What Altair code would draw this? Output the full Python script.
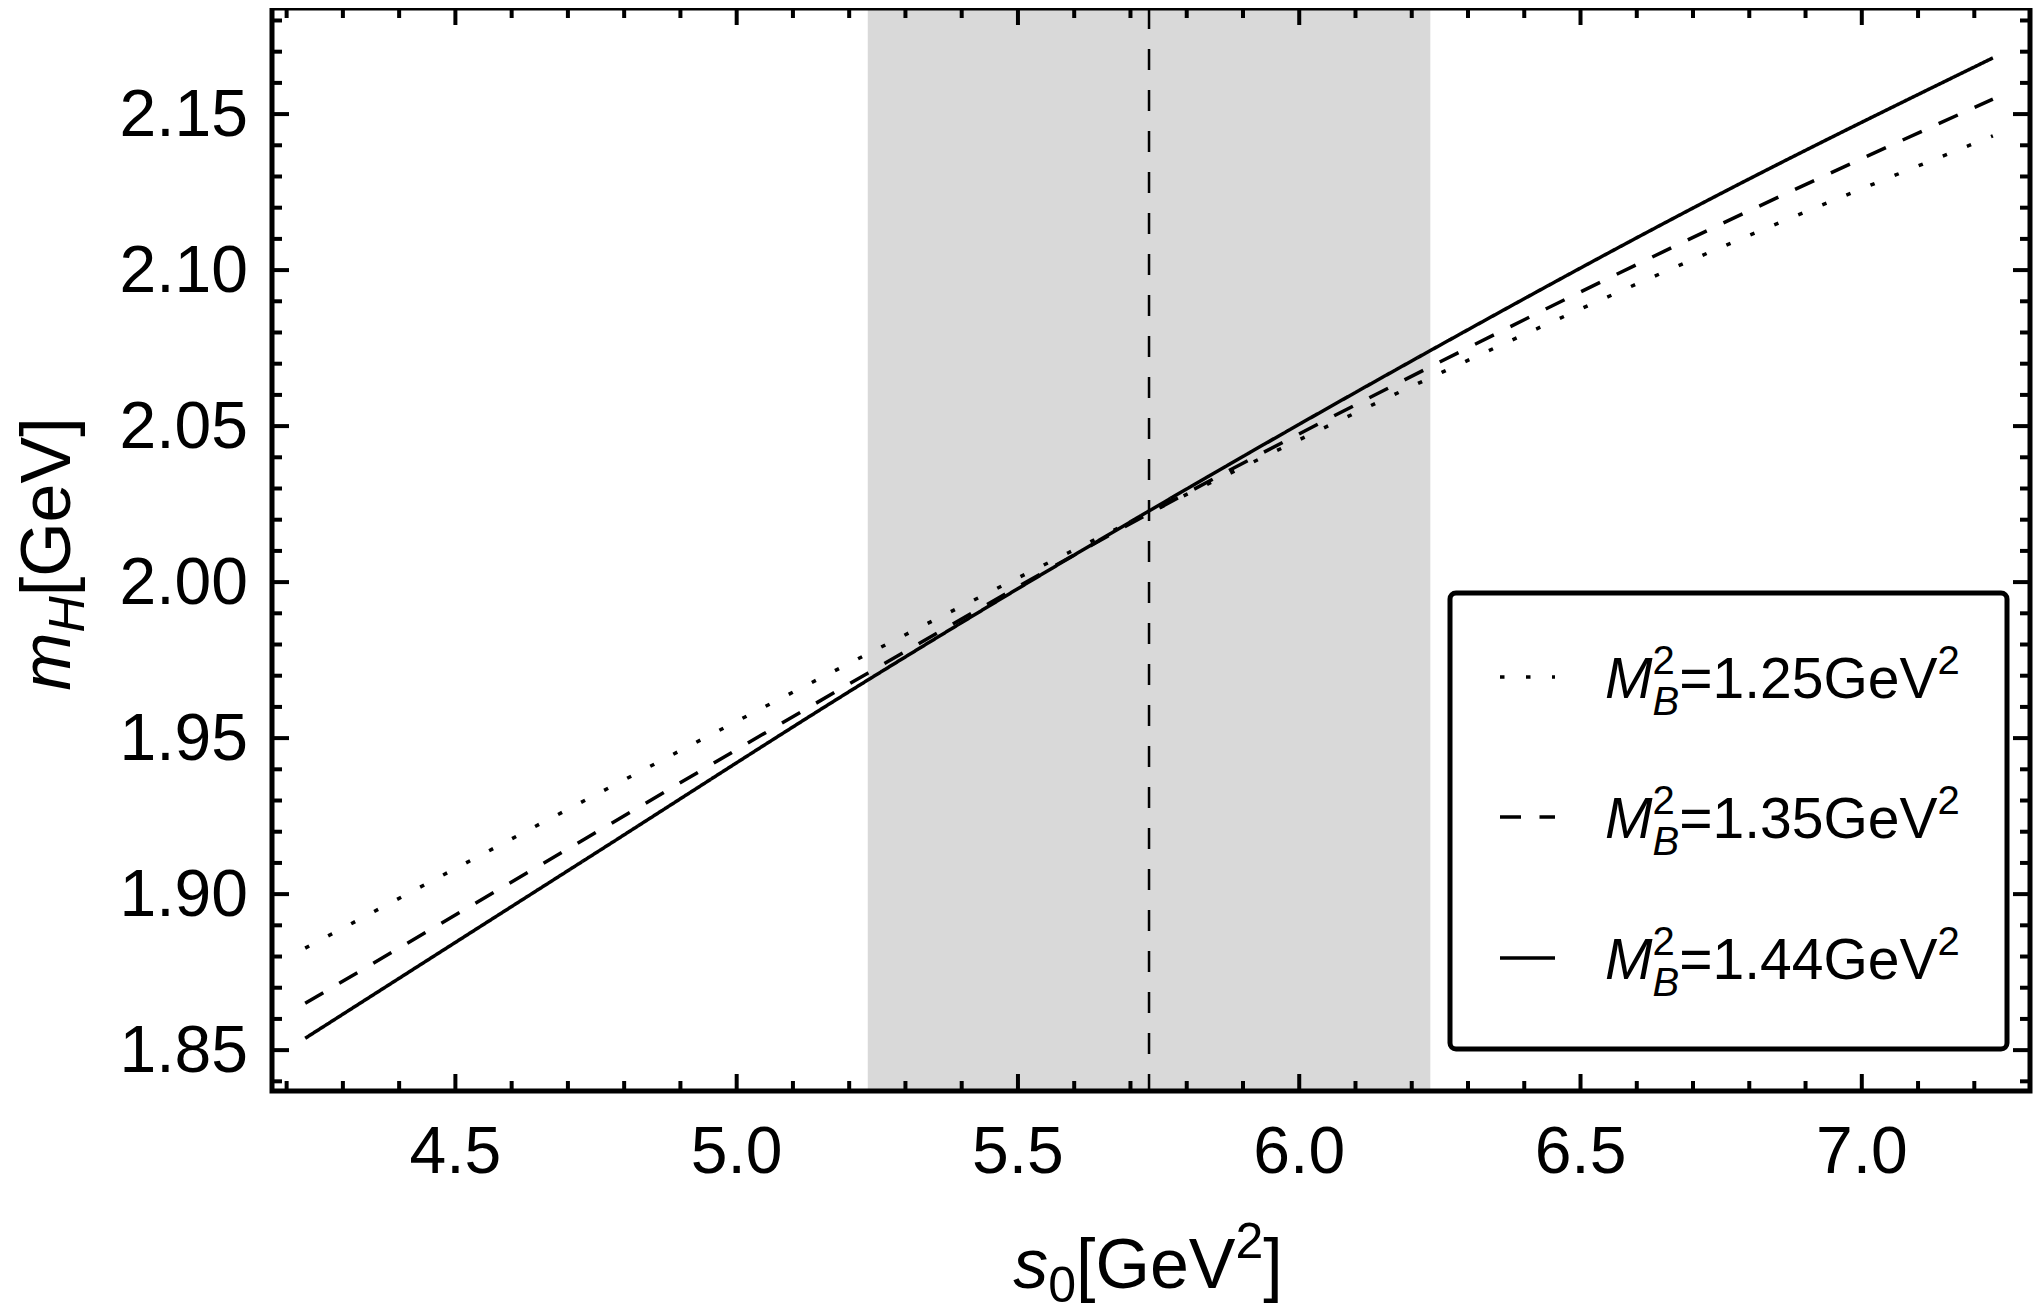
import altair as alt
import pandas as pd

# m_H as a function of the threshold s0, for three Borel masses M_B^2
s0 = [4.233, 4.733, 5.233, 5.733, 6.233, 6.733, 7.233]
mh_125 = [1.8827, 1.9303, 1.9770, 2.0222, 2.0655, 2.1060, 2.1430]
mh_135 = [1.8650, 1.9180, 1.9708, 2.0220, 2.0690, 2.1133, 2.1548]
mh_144 = [1.8538, 1.9113, 1.9686, 2.0228, 2.0742, 2.1230, 2.1680]
mb2 = ["1.25", "1.35", "1.44"]

s0_center = [5.733]
s0_band_lo = [5.233]
s0_band_hi = [6.233]

x_major = [4.5, 5.0, 5.5, 6.0, 6.5, 7.0]
y_major = [1.85, 1.90, 1.95, 2.00, 2.05, 2.10, 2.15]
x_minor = [v for v in [round(4.2 + 0.1 * i, 1) for i in range(31)] if v not in x_major]
y_minor = [v for v in [round(1.84 + 0.01 * i, 2) for i in range(35)] if v not in y_major]

W, H = 1758, 1083
FONT = "Liberation Sans"
xs = alt.Scale(domain=[4.174, 7.299], nice=False, zero=False)
ys = alt.Scale(domain=[1.8369, 2.184], nice=False, zero=False)
dummy = alt.Data(values=[{}])

REG = {"=": 0.584, ".": 0.278, "[": 0.278, "]": 0.278, "G": 0.778, "e": 0.556, "V": 0.667}
ITA = {"m": 0.833, "s": 0.5, "M": 0.833, "H": 0.722, "B": 0.667}


def text_width(s, size, italic):
    table = ITA if italic else REG
    return sum(table.get(c, 0.556) for c in s) * size


def rich_text(parts, x0, y0, angle=0):
    # parts: (text, size, italic, baseline shift, advance)
    layers = []
    pos = 0.0
    for text, size, italic, shift, advance in parts:
        if angle == 0:
            px, py = x0 + pos, y0 + shift
        else:
            px, py = x0 + shift, y0 - pos
        opts = dict(text=text, font=FONT, fontSize=size, align="left",
                    baseline="alphabetic", color="black")
        if italic:
            opts["fontStyle"] = "italic"
        if angle:
            opts["angle"] = angle
        layers.append(alt.Chart(dummy).mark_text(**opts).encode(
            x=alt.value(px), y=alt.value(py)))
        if advance:
            pos += text_width(text, size, italic)
    return layers


def total_width(parts):
    return sum(text_width(t, s, i) for t, s, i, _, a in parts if a)


# curves
rows = []
for label, vals in zip(mb2, [mh_125, mh_135, mh_144]):
    for x, y in zip(s0, vals):
        rows.append({"s0": x, "mh": y, "mb2": label})
curves_df = pd.DataFrame(rows)
dash_scale = alt.Scale(domain=mb2, range=[[4.5, 21.5], [21, 18.5], [1, 0]])

band = alt.Chart(pd.DataFrame({"lo": s0_band_lo, "hi": s0_band_hi})).mark_rect(
    color="#d9d9d9"
).encode(
    x=alt.X("lo:Q", scale=xs, axis=None),
    x2="hi:Q",
    y=alt.value(0),
    y2=alt.value(H),
)

center_line = alt.Chart(pd.DataFrame({"c": s0_center})).mark_rule(
    color="black", strokeWidth=2.5, strokeDash=[21, 20]
).encode(x=alt.X("c:Q", scale=xs, axis=None), y=alt.value(0), y2=alt.value(H))

lines = alt.Chart(curves_df).mark_line(
    color="black", strokeWidth=3.5, strokeCap="butt", interpolate="monotone"
).encode(
    x=alt.X("s0:Q", scale=xs, axis=None),
    y=alt.Y("mh:Q", scale=ys, axis=None),
    strokeDash=alt.StrokeDash("mb2:N", scale=dash_scale, legend=None),
    detail="mb2:N",
)

# inward frame ticks
tick_layers = []
for vals, size in [(x_major, 17), (x_minor, 10)]:
    src = alt.Chart(pd.DataFrame({"v": vals})).mark_rule(color="black", strokeWidth=4)
    tick_layers.append(src.encode(x=alt.X("v:Q", scale=xs, axis=None),
                                  y=alt.value(H), y2=alt.value(H - size)))
    tick_layers.append(src.encode(x=alt.X("v:Q", scale=xs, axis=None),
                                  y=alt.value(0), y2=alt.value(size)))
for vals, size in [(y_major, 17), (y_minor, 10)]:
    src = alt.Chart(pd.DataFrame({"v": vals})).mark_rule(color="black", strokeWidth=4)
    tick_layers.append(src.encode(y=alt.Y("v:Q", scale=ys, axis=None),
                                  x=alt.value(0), x2=alt.value(size)))
    tick_layers.append(src.encode(y=alt.Y("v:Q", scale=ys, axis=None),
                                  x=alt.value(W), x2=alt.value(W - size)))

# tick labels
x_labels = alt.Chart(pd.DataFrame({"v": x_major})).mark_text(
    font=FONT, fontSize=66, color="black", align="center", baseline="alphabetic"
).encode(
    x=alt.X("v:Q", scale=xs, axis=None),
    y=alt.value(H + 82),
    text=alt.Text("v:Q", format=".1f"),
)
y_labels = alt.Chart(pd.DataFrame({"v": y_major})).mark_text(
    font=FONT, fontSize=66, color="black", align="right", baseline="middle", dy=2
).encode(
    y=alt.Y("v:Q", scale=ys, axis=None),
    x=alt.value(-24),
    text=alt.Text("v:Q", format=".2f"),
)

frame = alt.Chart(dummy).mark_rect(filled=False, stroke="black", strokeWidth=5).encode(
    x=alt.value(0), x2=alt.value(W), y=alt.value(0), y2=alt.value(H))

# legend
legend_layers = [alt.Chart(dummy).mark_rect(
    fill="white", stroke="black", strokeWidth=5, cornerRadius=6
).encode(x=alt.value(1178), x2=alt.value(1735), y=alt.value(585), y2=alt.value(1041))]
row_y = [669, 809, 950]
dashes = [[4.5, 21.5], [21, 18.5], [1, 0]]
for label, ry, dash in zip(mb2, row_y, dashes):
    legend_layers.append(alt.Chart(dummy).mark_rule(
        color="black", strokeWidth=3.5, strokeDash=dash, strokeCap="butt"
    ).encode(x=alt.value(1228), x2=alt.value(1283), y=alt.value(ry)))
    parts = [
        ("M", 57, True, 0, True),
        ("2", 40, False, -24, False),
        ("B", 40, True, 17, True),
        ("=" + label + "GeV", 57, False, 0, True),
        ("2", 40, False, -24, True),
    ]
    legend_layers += rich_text(parts, 1333, ry + 21)

# axis titles
x_title = [
    ("s", 70, True, 0, True),
    ("0", 50, False, 14, True),
    ("[GeV", 70, False, 0, True),
    ("2", 50, False, -30, True),
    ("]", 70, False, 0, True),
]
y_title = [
    ("m", 70, True, 0, True),
    ("H", 50, True, 14, True),
    ("[GeV]", 70, False, 0, True),
]
title_layers = rich_text(x_title, 876 - total_width(x_title) / 2, 1280)
title_layers += rich_text(y_title, -202, 546 + total_width(y_title) / 2, angle=270)

chart = alt.layer(
    band, center_line, lines, *tick_layers, x_labels, y_labels, frame,
    *legend_layers, *title_layers
).properties(
    width=W,
    height=H,
    autosize=alt.AutoSizeParams(type="none"),
    padding={"left": 264, "top": 0, "right": 4, "bottom": 225},
).configure_view(stroke=None)

chart.save("out.html", embed_options={"renderer": "svg", "actions": False})
